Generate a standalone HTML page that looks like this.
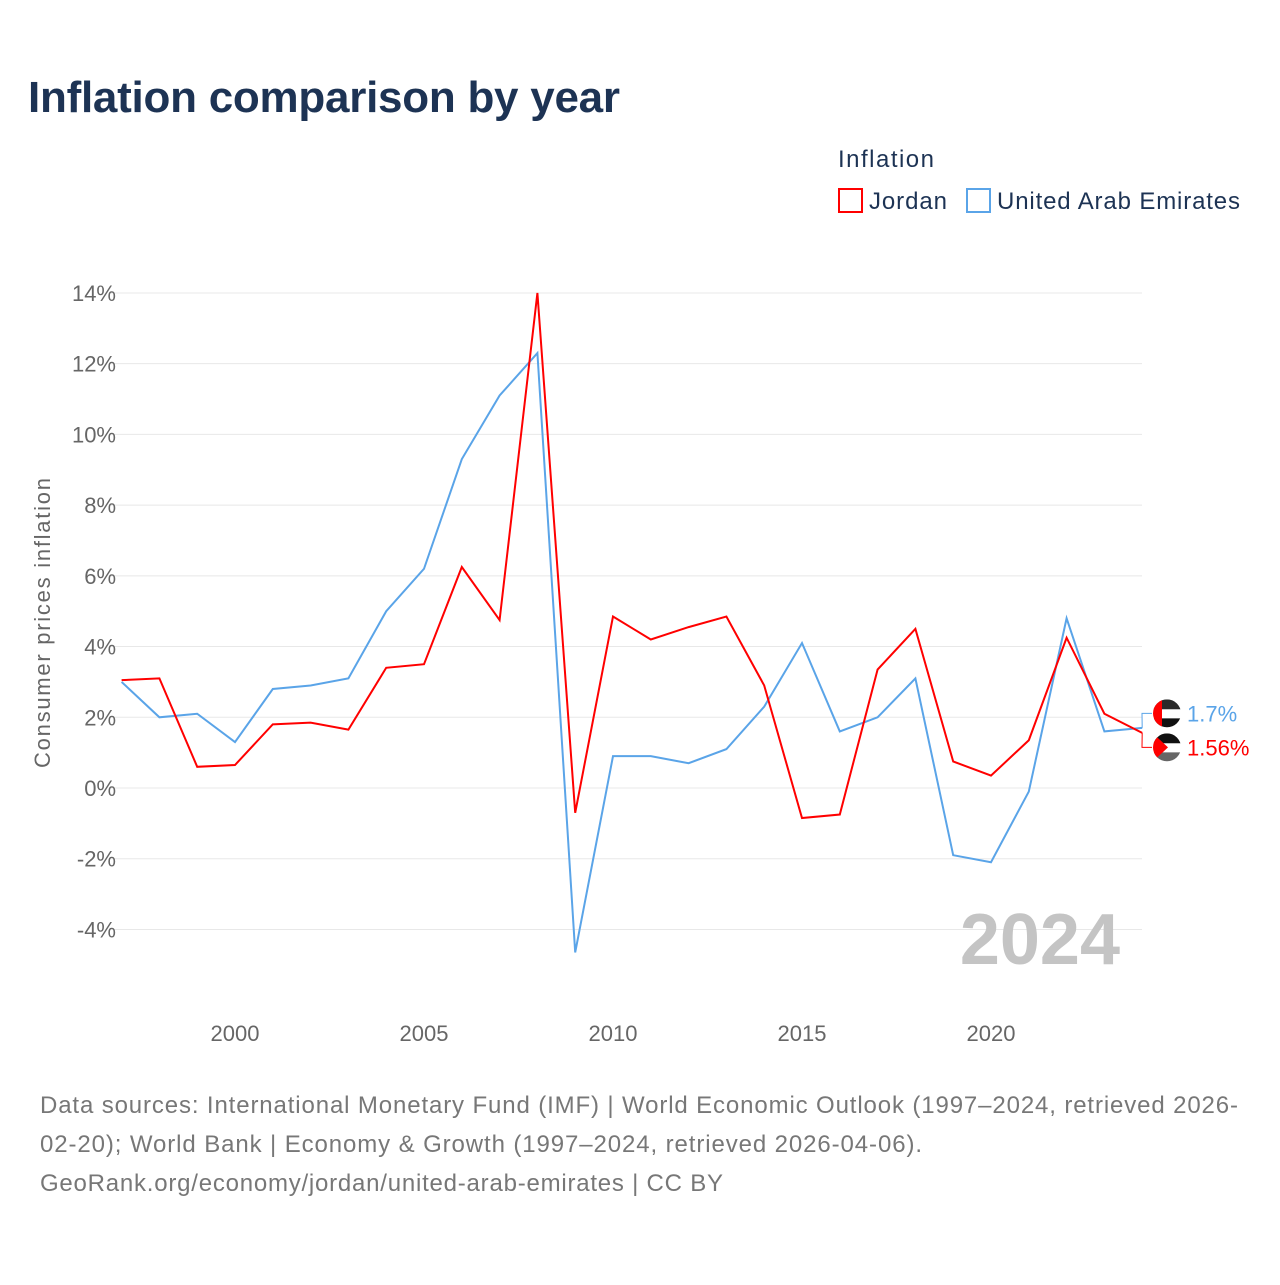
<!DOCTYPE html>
<html><head><meta charset="utf-8"><style>
body{margin:0;background:#fff;font-family:"Liberation Sans",sans-serif;}
</style></head><body>
<svg id="c" width="1280" height="1280" xmlns="http://www.w3.org/2000/svg">
<text x="28" y="112" font-size="44" font-weight="bold" fill="#1d3354" textLength="592">Inflation comparison by year</text>
<text x="838" y="167" font-size="24" fill="#1d3354" textLength="96">Inflation</text>
<g><rect x="839" y="189" width="23" height="23" fill="none" stroke="#ff0000" stroke-width="2"/><text x="869" y="209" font-size="24" fill="#1d3354" textLength="78">Jordan</text></g>
<g><rect x="967" y="189" width="23" height="23" fill="none" stroke="#5aa4e8" stroke-width="2"/><text x="997" y="209" font-size="24" fill="#1d3354" textLength="243">United Arab Emirates</text></g>
<g id="grid"></g>
<g id="yt"></g>
<g id="xt"></g>
<text transform="translate(50,623) rotate(-90)" text-anchor="middle" font-size="22" fill="#666" textLength="290">Consumer prices inflation</text>
<text x="1120" y="964" text-anchor="end" font-size="72" font-weight="bold" fill="#c4c4c4">2024</text>
<g id="lines"></g>
<text x="40" y="1113" font-size="24" fill="#777" textLength="1198">Data sources: International Monetary Fund (IMF) | World Economic Outlook (1997–2024, retrieved 2026-</text>
<text x="40" y="1152" font-size="24" fill="#777" textLength="882">02-20); World Bank | Economy &amp; Growth (1997–2024, retrieved 2026-04-06).</text>
<text x="40" y="1191" font-size="24" fill="#777" textLength="683">GeoRank.org/economy/jordan/united-arab-emirates | CC BY</text>
</svg>
<script>
const years=[1997,1998,1999,2000,2001,2002,2003,2004,2005,2006,2007,2008,2009,2010,2011,2012,2013,2014,2015,2016,2017,2018,2019,2020,2021,2022,2023,2024];
const jordan=[3.05,3.1,0.6,0.65,1.8,1.85,1.65,3.4,3.5,6.25,4.75,14.0,-0.7,4.85,4.2,4.55,4.85,2.9,-0.85,-0.75,3.35,4.5,0.75,0.35,1.35,4.25,2.1,1.56];
const uae=[3.0,2.0,2.1,1.3,2.8,2.9,3.1,5.0,6.2,9.3,11.1,12.3,-4.65,0.9,0.9,0.7,1.1,2.3,4.1,1.6,2.0,3.1,-1.9,-2.1,-0.1,4.8,1.6,1.7];
const yTicks=[-4,-2,0,2,4,6,8,10,12,14];
const xTicks=[2000,2005,2010,2015,2020];
const NS="http://www.w3.org/2000/svg";
const x=v=>121.6+(v-1997)*37.8;
const y=v=>788-v*35.36;
function mk(t,a,p){const e=document.createElementNS(NS,t);for(const k in a)e.setAttribute(k,a[k]);p.appendChild(e);return e;}
const g=document.getElementById('grid'),yt=document.getElementById('yt'),xt=document.getElementById('xt'),L=document.getElementById('lines');
yTicks.forEach(v=>{
 const l=mk('line',{x1:110,x2:1142,y1:y(v),y2:y(v),stroke:'#e8e8e8','stroke-width':1},g);
 
 
 const t=mk('text',{x:116,y:y(v)+8,'text-anchor':'end','font-size':22,fill:'#666'},yt);
 t.textContent=v+'%';
 
 
});
xTicks.forEach(v=>{
 const t=mk('text',{x:x(v),y:1041,'text-anchor':'middle','font-size':22,fill:'#666'},xt);
 t.textContent=v;
 
 
});
function line(d,c,name){
 const p=mk('path',{d:d.map((v,i)=>(i?'L':'M')+x(years[i])+','+y(v)).join(''),fill:'none',stroke:c,'stroke-width':2},L);
 
 
}
line(uae,'#5aa4e8','uae-line');
line(jordan,'#ff0000','jordan-line');
const lu=uae[uae.length-1],lj=jordan[jordan.length-1];
const mid=(y(lu)+y(lj))/2;
const ly1=mid-17, ly2=mid+17;
mk('path',{d:`M${x(2024)},${y(lu)}L1142,${ly1}L1152,${ly1}`,fill:'none',stroke:'#5aa4e8','stroke-width':1},L);
mk('path',{d:`M${x(2024)},${y(lj)}L1142,${ly2}L1152,${ly2}`,fill:'none',stroke:'#ff0000','stroke-width':1},L);
mk('clipPath',{id:'cp1'},L).appendChild(document.createElementNS(NS,'circle'));
const c1=document.querySelector('#cp1 circle');c1.setAttribute('cx',1167);c1.setAttribute('cy',ly1);c1.setAttribute('r',14);
mk('clipPath',{id:'cp2'},L).appendChild(document.createElementNS(NS,'circle'));
const c2=document.querySelector('#cp2 circle');c2.setAttribute('cx',1167);c2.setAttribute('cy',ly2);c2.setAttribute('r',14);
const f1=mk('g',{'clip-path':'url(#cp1)'},L);


mk('rect',{x:1153,y:ly1-14,width:28,height:10,fill:'#2a2a2a'},f1);
mk('rect',{x:1153,y:ly1-4,width:28,height:9,fill:'#fff'},f1);
mk('rect',{x:1153,y:ly1+5,width:28,height:9,fill:'#111'},f1);
mk('rect',{x:1153,y:ly1-14,width:9,height:28,fill:'#ff0000'},f1);
const f2=mk('g',{'clip-path':'url(#cp2)'},L);


mk('rect',{x:1153,y:ly2-14,width:28,height:10,fill:'#111'},f2);
mk('rect',{x:1153,y:ly2-4,width:28,height:9,fill:'#fff'},f2);
mk('rect',{x:1153,y:ly2+5,width:28,height:9,fill:'#666'},f2);
mk('path',{d:`M1153,${ly2-14}L1168,${ly2}L1153,${ly2+14}Z`,fill:'#ff0000'},f2);
const t1=mk('text',{x:1187,y:ly1+8,'font-size':22,fill:'#5aa4e8'},L);t1.textContent=lu+'%';


const t2=mk('text',{x:1187,y:ly2+8,'font-size':22,fill:'#ff0000'},L);t2.textContent=lj+'%';


</script>
</body></html>
